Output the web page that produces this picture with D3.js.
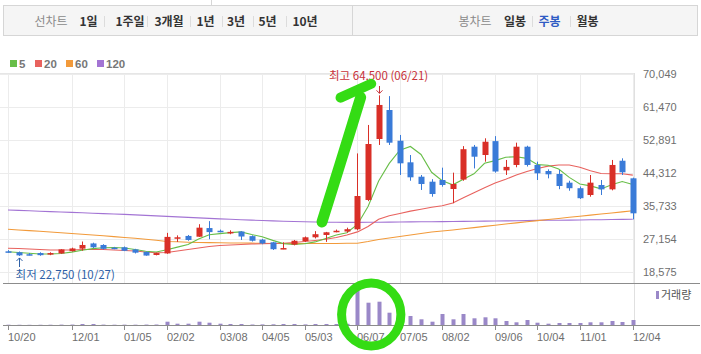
<!DOCTYPE html>
<html>
<head>
<meta charset="utf-8">
<script src="https://cdn.jsdelivr.net/npm/d3@7"></script>
<style>
body { margin: 0; background: #fff; }
svg { display: block; }
</style>
</head>
<body>
<svg id="chart" width="701" height="354"></svg>
<script>
// weekly candles, 10/20 .. 12/04
const opens  = [23950,23700,23200,23500,23100,23400,24000,24650,26000,25600,24900,25000,24450,23800,23000,23400,27300,27950,27750,30000,
                29300,28800,29100,27900,27000,26300,24700,25700,26600,27600,28200,29100,29100,29670,37300,53150,60690,52700,47090,43350,
                42050,42490,40150,42600,51150,48990,52600,45000,46400,51150,46400,44830,44050,41800,40360,38590,41190,40060,47500,42930];
const highs  = [24250,23900,23500,23700,23700,24500,24900,26500,26200,25800,25100,25200,24600,23900,23600,28750,28100,28200,31000,31800,
                29600,29400,29200,28100,27200,26400,26300,26900,27800,29200,29000,29600,30100,49400,56800,64500,64300,54200,48990,43800,
                42700,45700,44400,51300,51600,53330,53900,47700,52200,51400,47260,45260,45100,42300,40800,43790,42490,47700,48130,43100];
const lows   = [23600,22750,22900,22800,22950,23300,23900,24100,24800,24400,24500,24000,23400,22800,22900,23300,26400,26700,27700,27100,
                28900,28400,26900,26500,25800,24300,24500,25500,26400,27300,26400,28900,28800,29400,37000,51600,51600,43800,42300,39900,
                38150,40750,36450,42300,45500,47250,44400,43800,45800,45990,42490,42920,40100,39700,37550,38150,38590,39800,43790,32250];
const closes = [23800,22900,23100,22950,23500,24450,24700,25600,25000,24600,24750,24100,23600,22850,23500,27700,27600,26900,30100,28950,
                29150,29000,27800,26700,26000,24500,24800,26700,27600,28400,28900,29300,29700,38330,51850,62000,52190,46830,43190,41450,
                38850,41190,41450,50500,48550,52440,44700,45900,51150,46400,44230,43970,40930,40360,37760,41800,40060,46400,44490,33830];
const volumes = [15,12,10,12,14,20,22,50,50,20,15,18,16,22,25,165,65,65,165,115,
                 65,50,50,25,30,35,50,50,30,50,50,50,60,1785,1115,1165,615,665,450,285,
                 165,550,285,550,335,385,335,200,135,250,115,65,100,100,100,135,135,200,150,250];

// moving averages
const ma5   = [23850,23640,23460,23250,23250,23380,23740,24240,24650,24870,24930,24810,24410,23980,23760,24350,25050,25710,27160,28250,
               28540,28820,29000,28320,27730,26800,25960,25740,25920,26400,27280,28180,28780,30930,35620,42240,46810,50240,51210,49130,
               44500,42300,41230,42690,44110,46830,47530,48420,48550,48120,46480,46330,45340,43180,41450,40960,40180,41280,42100,41320];
const ma20  = [24730,24680,24550,24420,24290,24290,24290,24420,24420,24420,24290,24160,24030,23770,23590,23640,24030,24420,24810,25200,
               25460,25590,25720,25850,25900,25980,26030,26240,26500,26760,27070,27540,28190,29000,30400,32300,33200,33800,34400,34900,
               35400,35800,36500,37900,39200,40500,41700,42700,43800,44700,45500,46100,46400,46400,45800,44900,44200,44100,44100,43750];
const ma60  = [29670,29490,29330,29150,28970,28760,28580,28400,28190,28010,27770,27540,27330,27100,26810,26500,26420,26320,26240,26210,
               26160,26110,26110,26080,26030,26000,25980,25980,25980,25980,25980,26000,26030,26060,26500,27020,27410,27800,28190,28580,
               28970,29230,29490,29800,30110,30430,30740,31050,31340,31620,31930,32220,32500,32790,33080,33360,33650,33910,34200,34480];
const ma120 = [34690,34590,34480,34380,34270,34170,34070,33960,33860,33750,33650,33550,33420,33290,33160,33030,32900,32770,32640,32510,
               32380,32270,32170,32060,31960,31860,31780,31700,31620,31570,31520,31490,31470,31470,31490,31520,31540,31570,31600,31620,
               31650,31670,31700,31730,31780,31800,31830,31860,31880,31930,31990,32010,32040,32060,32090,32140,32170,32220,32250,32270];

const maNames  = ["5", "20", "60", "120"];
const maColors = ["#68be48", "#e8625e", "#f29a3a", "#a374d4"];
const maSeries = [ma5, ma20, ma60, ma120];

const tickWeeks  = [0, 6, 11, 15, 20, 24, 28, 33, 37, 41, 46, 50, 54, 59];
const tickLabels = ["10/20","12/01","01/05","02/02","03/08","04/05","05/03","06/07","07/05","08/02","09/06","10/04","11/01","12/04"];
const priceTicks = [18575, 27154, 35733, 44312, 52891, 61470, 70049];

const rangeTabs = ["1일", "1주일", "3개월", "1년", "3년", "5년", "10년"];
const candleTabs = ["일봉", "주봉", "월봉"];
const maxDate = "06/21", minDate = "10/27";

// hand drawn green marks, in (week, price) and (week, volume)
const markArrow = [[29.65, 31600], [31.4, 47000], [33.3, 64000]];
const markWing  = [[31.4, 63900], [34.3, 67500]];
const markRing  = {w0: 31.5, w1: 37.1, v0: -1050, v1: 2100};

const svg = d3.select("#chart");
const KR = "'Noto Sans CJK KR', sans-serif";
const NUM = "'Liberation Sans', Arial, sans-serif";

// ---- tab bar
svg.append("line").attr("x1", 211.5).attr("x2", 211.5).attr("y1", 0).attr("y2", 5).attr("stroke", "#d6d6d6");
svg.append("rect").attr("x", 3.5).attr("y", 5.5).attr("width", 694).attr("height", 30)
    .attr("fill", "#f5f5f5").attr("stroke", "#d6d6d6");
svg.append("line").attr("x1", 352.5).attr("x2", 352.5).attr("y1", 5).attr("y2", 36).attr("stroke", "#d6d6d6");

let tabX = [88.5, 130, 169, 205.5, 236, 267.5, 305];
let sepX = [104.5, 147.5, 190.5, 222.5, 253.5, 286.5];
svg.append("text").attr("x", 51).attr("y", 25.5).attr("text-anchor", "middle")
    .style("font-family", KR).style("font-size", "12px").style("fill", "#8a8a8a").text("선차트");
svg.selectAll(".rtab").data(rangeTabs).enter().append("text")
    .attr("x", (d, i) => tabX[i]).attr("y", 25.5).attr("text-anchor", "middle")
    .style("font-family", KR).style("font-size", "12px").style("font-weight", "bold").style("fill", "#333")
    .text(d => d);
svg.selectAll(".rsep").data(sepX).enter().append("line")
    .attr("x1", d => d).attr("x2", d => d).attr("y1", 16).attr("y2", 27).attr("stroke", "#dcdcdc");

let ctabX = [515, 549.5, 587.5];
svg.append("text").attr("x", 475).attr("y", 25.5).attr("text-anchor", "middle")
    .style("font-family", KR).style("font-size", "12px").style("fill", "#8a8a8a").text("봉차트");
svg.selectAll(".ctab").data(candleTabs).enter().append("text")
    .attr("x", (d, i) => ctabX[i]).attr("y", 25.5).attr("text-anchor", "middle")
    .style("font-family", KR).style("font-size", "12px").style("font-weight", "bold")
    .style("fill", d => d == "주봉" ? "#2f5cc4" : "#333")
    .text(d => d);
svg.selectAll(".csep").data([532.5, 570.5]).enter().append("line")
    .attr("x1", d => d).attr("x2", d => d).attr("y1", 16).attr("y2", 27).attr("stroke", "#dcdcdc");

// ---- legend
let legX = [10, 35, 66, 97];
maNames.forEach((n, i) => {
    svg.append("rect").attr("x", legX[i]).attr("y", 60).attr("width", 7).attr("height", 7).attr("fill", maColors[i]);
    svg.append("text").attr("x", legX[i] + 9).attr("y", 67.5)
        .style("font-family", NUM).style("font-size", "11.5px").style("font-weight", "bold").style("fill", "#777")
        .text(n);
});

// ---- scales
const x = d3.scaleLinear().domain([0, 59]).range([8, 632.8]);
const y = d3.scaleLinear().domain([18575, 70049]).range([272, 74]);
const yv = d3.scaleLinear().domain([0, 2000]).range([325, 285]);
const px = i => Math.round(x(i));

// grid
svg.selectAll(".hgrid").data(priceTicks).enter().append("line")
    .attr("x1", 0).attr("x2", 634).attr("y1", d => Math.round(y(d)) + 0.5).attr("y2", d => Math.round(y(d)) + 0.5)
    .attr("stroke", "#ececec");
svg.selectAll(".vgrid").data(tickWeeks).enter().append("line")
    .attr("x1", d => px(d) + 0.5).attr("x2", d => px(d) + 0.5).attr("y1", 73).attr("y2", 283)
    .attr("stroke", "#ececec");

// frame
svg.append("line").attr("x1", 0).attr("x2", 634).attr("y1", 73.5).attr("y2", 73.5).attr("stroke", "#e6e6e6");
svg.append("line").attr("x1", 634.5).attr("x2", 634.5).attr("y1", 73).attr("y2", 325).attr("stroke", "#e0e0e0");
svg.append("line").attr("x1", 3).attr("x2", 700).attr("y1", 283.5).attr("y2", 283.5).attr("stroke", "#8c8c8c");
svg.append("line").attr("x1", 3).attr("x2", 700).attr("y1", 325.5).attr("y2", 325.5).attr("stroke", "#8c8c8c");

// y labels
svg.selectAll(".ylab").data(priceTicks).enter().append("text")
    .attr("x", 643).attr("y", d => y(d) + 4)
    .style("font-family", NUM).style("font-size", "11px").style("fill", "#6e6e6e")
    .text(d => d3.format(",")(d));

// x ticks + labels
svg.selectAll(".xtick").data(tickWeeks).enter().append("line")
    .attr("x1", d => px(d) + 0.5).attr("x2", d => px(d) + 0.5).attr("y1", 326).attr("y2", 330)
    .attr("stroke", "#8c8c8c");
svg.selectAll(".xlab").data(tickLabels).enter().append("text")
    .attr("x", (d, i) => px(tickWeeks[i])).attr("y", 341)
    .style("font-family", NUM).style("font-size", "11px").style("fill", "#6e6e6e")
    .text(d => d);

// ---- moving averages (drawn under candles)
maSeries.slice().reverse().forEach((s, k) => {
    let i = maSeries.length - 1 - k;
    svg.append("path").datum(s)
        .attr("d", d3.line().x((d, j) => x(j)).y(d => y(d)))
        .attr("fill", "none").attr("stroke", maColors[i]).attr("stroke-width", 1.1);
});

// ---- candles
const UP = "#d92f27", DOWN = "#3a7bd8";
let candles = svg.selectAll(".candle").data(closes).enter().append("g");
candles.append("line")
    .attr("x1", (d, i) => px(i) + 0.5).attr("x2", (d, i) => px(i) + 0.5)
    .attr("y1", (d, i) => y(highs[i])).attr("y2", (d, i) => y(lows[i]))
    .attr("stroke", (d, i) => d >= opens[i] ? UP : DOWN);
candles.append("rect")
    .attr("x", (d, i) => px(i) - 2.5).attr("width", 6)
    .attr("y", (d, i) => y(Math.max(d, opens[i])))
    .attr("height", (d, i) => Math.max(1.5, Math.abs(y(d) - y(opens[i]))))
    .attr("fill", (d, i) => d >= opens[i] ? UP : DOWN);

// ---- volume
svg.selectAll(".vol").data(volumes).enter().append("rect")
    .attr("x", (d, i) => px(i) - 1.5).attr("width", 4)
    .attr("y", d => yv(d)).attr("height", d => yv(0) - yv(d))
    .attr("fill", "#9a88c8");
svg.append("rect").attr("x", 656).attr("y", 291).attr("width", 3).attr("height", 8).attr("fill", "#9a88c8");
svg.append("text").attr("x", 661).attr("y", 299)
    .style("font-family", KR).style("font-size", "11px").style("fill", "#555").text("거래량");

// ---- max / min labels
let hiI = d3.maxIndex(highs), loI = d3.minIndex(lows);
svg.append("text").attr("x", x(hiI)).attr("y", 80).attr("text-anchor", "middle")
    .style("font-family", KR).style("font-size", "11.5px").style("fill", "#c8323a")
    .text("최고 " + d3.format(",")(highs[hiI]) + " (" + maxDate + ")");
svg.append("path")
    .attr("d", `M${px(hiI) + 0.5},86 V${y(highs[hiI]) - 2} M${px(hiI) - 2.5},${y(highs[hiI]) - 5} L${px(hiI) + 0.5},${y(highs[hiI]) - 2} L${px(hiI) + 3.5},${y(highs[hiI]) - 5}`)
    .attr("fill", "none").attr("stroke", "#c8323a");
svg.append("text").attr("x", x(loI) - 3).attr("y", 279)
    .style("font-family", KR).style("font-size", "11.5px").style("fill", "#2d5fa6")
    .text("최저 " + d3.format(",")(lows[loI]) + " (" + minDate + ")");
svg.append("path")
    .attr("d", `M${px(loI) + 0.5},267 V${y(lows[loI]) + 2} M${px(loI) - 2.5},${y(lows[loI]) + 5} L${px(loI) + 0.5},${y(lows[loI]) + 2} L${px(loI) + 3.5},${y(lows[loI]) + 5}`)
    .attr("fill", "none").attr("stroke", "#2d5fa6");

// ---- green hand drawn marks
const GREEN = "#34dc14";
svg.append("path").datum(markArrow)
    .attr("d", d3.line().x(d => x(d[0])).y(d => y(d[1])).curve(d3.curveCatmullRom))
    .attr("fill", "none").attr("stroke", GREEN).attr("stroke-width", 11).attr("stroke-linecap", "round");
svg.append("path").datum(markWing)
    .attr("d", d3.line().x(d => x(d[0])).y(d => y(d[1])))
    .attr("fill", "none").attr("stroke", GREEN).attr("stroke-width", 10).attr("stroke-linecap", "round");
svg.append("ellipse")
    .attr("cx", (x(markRing.w0) + x(markRing.w1)) / 2).attr("cy", (yv(markRing.v0) + yv(markRing.v1)) / 2)
    .attr("rx", (x(markRing.w1) - x(markRing.w0)) / 2).attr("ry", (yv(markRing.v0) - yv(markRing.v1)) / 2)
    .attr("fill", "none").attr("stroke", GREEN).attr("stroke-width", 9);
</script>
</body>
</html>
